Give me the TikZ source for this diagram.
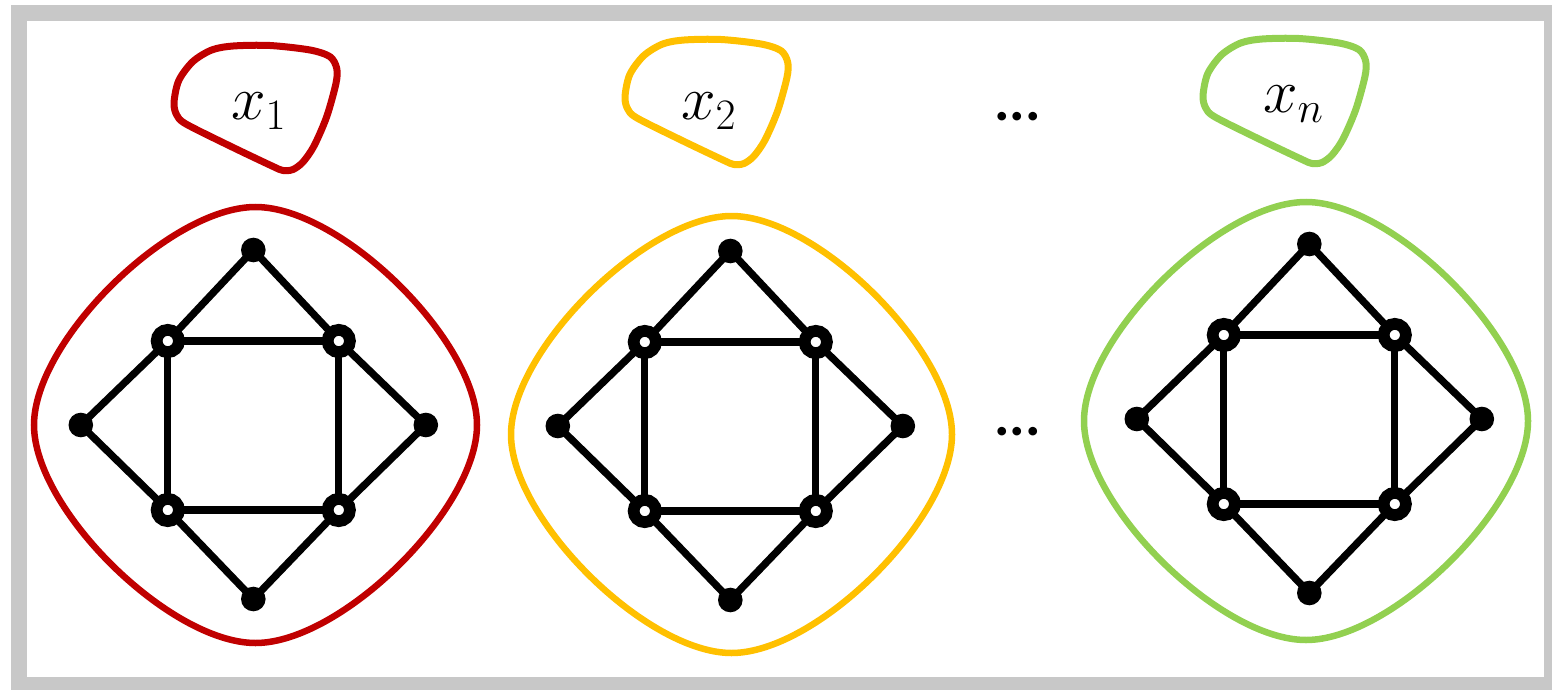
\RequirePackage{fix-cm}
\documentclass[tikz,border=0pt]{standalone}
\usepackage{fontspec}
\newfontfamily\dotfont{Carlito}
\usetikzlibrary{backgrounds}
\definecolor{cred}{RGB}{192,0,0}
\definecolor{cyellow}{RGB}{255,192,0}
\definecolor{cgreen}{RGB}{146,208,80}
\definecolor{cframe}{RGB}{200,200,200}
\tikzset{
  fullnode/.style={circle, fill=black, inner sep=0pt, minimum size=24.6pt},
  ringnode/.style={circle, draw=black, fill=white, line width=11.7pt, inner sep=0pt, minimum size=22.3pt},
  graphline/.style={line width=7.3pt, black},
  hull/.style={line width=6.5pt},
  blob/.style={line width=7pt, line join=round},
  lbl/.style={inner sep=0pt, anchor=base west, font=\fontsize{62}{70}\selectfont},
  dotslbl/.style={inner sep=0pt, anchor=base, font=\dotfont\bfseries\fontsize{58}{60}\selectfont},
}
\newcommand\graphat[3]{%
  \begin{scope}[shift={(#2,#3)}]
    \node[fullnode] (#1t) at (0,-175) {};
    \node[fullnode] (#1l) at (-172.5,0) {};
    \node[fullnode] (#1r) at (172.5,0) {};
    \node[fullnode] (#1b) at (0,174) {};
    \node[ringnode] (#1a) at (-85.5,-84) {};
    \node[ringnode] (#1c) at (85.5,-84) {};
    \node[ringnode] (#1d) at (-85.5,85) {};
    \node[ringnode] (#1e) at (85.5,85) {};
  \end{scope}
  \begin{scope}[on background layer]
    \draw[graphline] (#1t.center) -- (#1a.center) -- (#1l.center) -- (#1d.center) -- (#1b.center) -- (#1e.center) -- (#1r.center) -- (#1c.center) -- cycle;
    \draw[graphline] (#1a.center) -- (#1c.center) -- (#1e.center) -- (#1d.center) -- cycle;
  \end{scope}
}
\newcommand\hullat[5]{%
  \begin{scope}[shift={(#1,#2)}, xscale=#3, yscale=#4]
    \draw[hull,#5] (0,-1) .. controls (0.387,-1) and (1,-0.387) .. (1,0)
      .. controls (1,0.387) and (0.387,1) .. (0,1)
      .. controls (-0.387,1) and (-1,0.387) .. (-1,0)
      .. controls (-1,-0.387) and (-0.387,-1) .. (0,-1) -- cycle;
  \end{scope}
}
\newcommand\blobat[3]{%
  \begin{scope}[shift={(#1,#2)}]
    \draw[blob,#3] plot[smooth cycle, tension=0.5] coordinates {
      (233.3,46) (270,45.5) (310,50) (330,56.7) (336.7,68.3) (336,83.3)
      (326.7,116.7) (314,146) (303,162) (293,169.5) (283,170.5) (272,166)
      (230,146) (186,124) (176.7,115) (174,102.7)
      (178.7,80.7) (192.7,61.7) (211.7,50)};
  \end{scope}
}
\begin{document}
\begin{tikzpicture}[x=1pt,y=-1pt]
  \path[use as bounding box, clip] (0,0) rectangle (1552,690);
  \draw[cframe, line width=16pt] (19,13) rectangle (1552.3,684.7);

  % small blobs with labels
  \blobat{0}{0}{cred}
  \blobat{451}{-6}{cyellow}
  \blobat{1029}{-7}{cgreen}
  \node[lbl] (l1) at (231,120) {$x_1$};
  \node[lbl] (l2) at (681,120) {$x_2$};
  \node[lbl] (ln) at (1263,113) {$x_n$};
  \node[dotslbl] (d1) at (1017.5,121) {...};
  \node[dotslbl] (d2) at (1017.5,435) {...};

  % hulls
  \hullat{255.5}{425}{221.5}{218}{cred}
  \hullat{731.5}{434.5}{220.5}{218.5}{cyellow}
  \hullat{1306}{421}{222}{219}{cgreen}

  % graphs
  \graphat{g1}{253.3}{425}
  \graphat{g2}{730.3}{426}
  \graphat{g3}{1309.3}{419}
\end{tikzpicture}
\end{document}
